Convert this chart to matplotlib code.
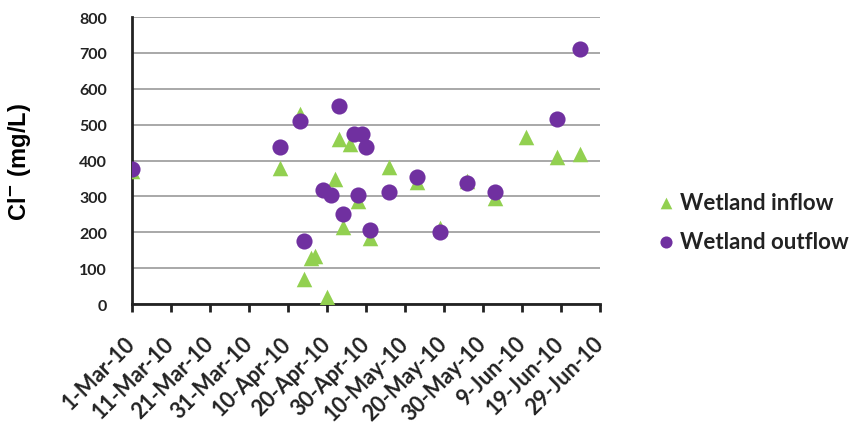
import numpy as np
import pandas as pd
from matplotlib import pyplot as plt
from matplotlib.transforms import ScaledTranslation

# inflow (triangles)
inflow_dates = ["2010-03-01", "2010-04-08", "2010-04-13", "2010-04-14", "2010-04-16",
                "2010-04-17", "2010-04-20", "2010-04-22", "2010-04-23", "2010-04-24",
                "2010-04-26", "2010-04-28", "2010-05-01", "2010-05-06", "2010-05-13",
                "2010-05-19", "2010-05-26", "2010-06-02", "2010-06-10", "2010-06-18",
                "2010-06-24"]
inflow_cl = [372, 378, 530, 70, 127, 135, 19, 348, 460, 214,
             446, 288, 183, 381, 339, 212, 342, 295, 467, 409, 418]

# outflow (circles)
outflow_dates = ["2010-03-01", "2010-04-08", "2010-04-13", "2010-04-14", "2010-04-19",
                 "2010-04-21", "2010-04-23", "2010-04-24", "2010-04-27", "2010-04-28",
                 "2010-04-29", "2010-04-30", "2010-05-01", "2010-05-06", "2010-05-13",
                 "2010-05-19", "2010-05-26", "2010-06-02", "2010-06-18", "2010-06-24"]
outflow_cl = [376, 439, 510, 175, 318, 304, 552, 251, 475, 304,
              475, 439, 207, 313, 353, 202, 337, 313, 515, 712]

tick_dates = pd.date_range("2010-03-01", "2010-06-29", freq="10D")

green = '#92D050'
purple = '#7030A0'
dark = '#222222'

fig = plt.figure(figsize=(8.53, 4.27), dpi=100)
ax = fig.add_axes([0.1547, 0.2857, 0.5487, 0.672])

ax.scatter(pd.to_datetime(inflow_dates), inflow_cl, marker='^', s=125, c=green,
           linewidths=0, label="Wetland inflow", zorder=3)
ax.scatter(pd.to_datetime(outflow_dates), outflow_cl, marker='o', s=135, c=purple,
           linewidths=0, label="Wetland outflow", zorder=4)

ax.set_xlim(tick_dates[0], tick_dates[-1])
ax.set_ylim(0, 800)
ax.set_yticks(np.arange(0, 801, 100))
ax.set_xticks(tick_dates)
ax.set_xticklabels([d.strftime("%-d-%b-%y") for d in tick_dates],
                   rotation=45, ha='right', va='center', rotation_mode='anchor',
                   fontsize=15.5, fontweight='bold', family='Lato', color=dark)
shift = ScaledTranslation(5/100, 0, fig.dpi_scale_trans)
for lab in ax.get_xticklabels():
    lab.set_transform(lab.get_transform() + shift)
for lab in ax.get_yticklabels():
    lab.set_fontsize(11.5)
    lab.set_fontweight('bold')
    lab.set_family('Lato')
    lab.set_color(dark)

ax.grid(axis='y', color='#999999', linewidth=1.2)
ax.set_axisbelow(True)
for side in ['top', 'right']:
    ax.spines[side].set_visible(False)
for side in ['left', 'bottom']:
    ax.spines[side].set_linewidth(2)
    ax.spines[side].set_color(dark)
ax.tick_params(axis='y', length=0, pad=18)
ax.tick_params(axis='x', length=6, width=2, color=dark, pad=20)

ax.set_ylabel(r"Cl$^{\mathbf{-}}$ (mg/L)", fontsize=17, fontweight='bold',
              family='Liberation Sans', labelpad=33)

leg = fig.legend(loc='center left', bbox_to_anchor=(0.773, 0.478), frameon=False,
                 markerscale=0.75, handlelength=0.6, handletextpad=0.35,
                 labelspacing=0.8, borderaxespad=0, borderpad=0,
                 prop={'family': 'Lato', 'weight': 'bold', 'size': 16})
for t in leg.get_texts():
    t.set_color(dark)

plt.savefig('out.png', dpi=100)
